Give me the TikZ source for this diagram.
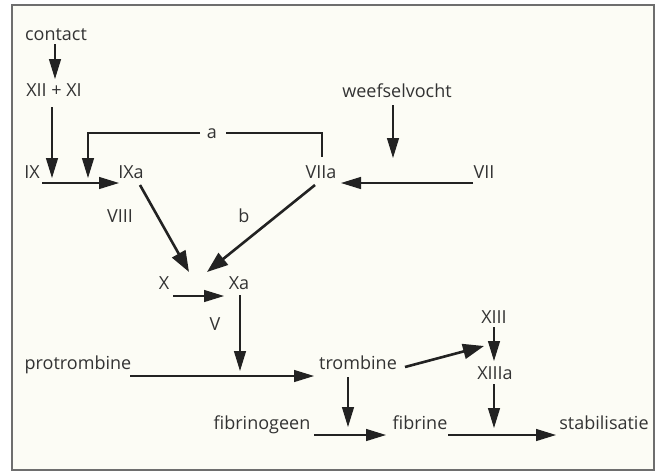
\documentclass[tikz,border=0pt]{standalone}
\usepackage{fontspec}
\setmainfont{Open Sans}
\usetikzlibrary{arrows.meta}
\definecolor{ink}{HTML}{222222}
\definecolor{txt}{HTML}{333333}
\definecolor{paper}{HTML}{FCFCF5}
\definecolor{framec}{HTML}{6E6E6E}
\begin{document}
\begin{tikzpicture}[x=1pt,y=-1pt,
  lbl/.style={font=\fontsize{18}{21}\selectfont, text=txt, inner sep=0pt, anchor=base},
  conn/.style={draw=ink, line width=1.3pt},
  arr/.style={conn, -{Triangle[length=20pt,width=12pt]}},
  thickarr/.style={draw=ink, line width=2.6pt, -{Triangle[length=21pt,width=15pt]}}]
\useasboundingbox (0,0) rectangle (664,472);
\fill[white] (0,0) rectangle (664,472);
\draw[framec, fill=paper, line width=1.3pt] (12,5) rectangle (654,470);

% labels
\node[lbl] (contact) at (56,40) {contact};
\node[lbl] (xii) at (54,96) {XII + XI};
\node[lbl] (ix) at (32,178) {IX};
\node[lbl] (ixa) at (131,178) {IXa};
\node[lbl] (a) at (212,138) {a};
\node[lbl] (viia) at (321,178) {VIIa};
\node[lbl] (vii) at (484,178) {VII};
\node[lbl] (weef) at (397,97) {weefselvocht};
\node[lbl] (viii) at (120,222) {VIII};
\node[lbl] (b) at (244,222) {b};
\node[lbl] (x) at (164,289) {X};
\node[lbl] (xa) at (239,289) {Xa};
\node[lbl] (v) at (215,330) {V};
\node[lbl] (protr) at (78,369) {protrombine};
\node[lbl] (tromb) at (358,369) {trombine};
\node[lbl] (xiii) at (494,323) {XIII};
\node[lbl] (xiiia) at (495,379) {XIIIa};
\node[lbl] (fibrinog) at (262,429) {fibrinogeen};
\node[lbl] (fibrine) at (420,429) {fibrine};
\node[lbl] (stab) at (604,429) {stabilisatie};

% connector end points
\coordinate (contactOut) at (55,44);
\coordinate (xiiIn) at (55,79);
\coordinate (xiiOut) at (52,107);
\coordinate (ixjoin) at (52,178);
\coordinate (ixOut) at (42,183);
\coordinate (ixaIn) at (119,183);
\coordinate (aL) at (200,133);
\coordinate (aR) at (226,133);
\coordinate (aTip) at (88,178);
\coordinate (viiaTop) at (322,157);
\coordinate (weefOut) at (393,105);
\coordinate (weefTip) at (393,158);
\coordinate (viiOut) at (473,183);
\coordinate (viiaIn) at (341,183);
\coordinate (ixaOut) at (140,185);
\coordinate (xaInL) at (189,272);
\coordinate (viiaOut) at (315,185);
\coordinate (xaInR) at (207,272);
\coordinate (xOut) at (173,296);
\coordinate (xaIn) at (224,296);
\coordinate (xaOut) at (240,295);
\coordinate (vTip) at (240,371);
\coordinate (protrOut) at (130,376);
\coordinate (trombIn) at (314,376);
\coordinate (trombOut) at (405,367);
\coordinate (xiiiSide) at (484,346);
\coordinate (xiiiOut) at (494,327);
\coordinate (xiiiaIn) at (494,361);
\coordinate (xiiiaOut) at (494,384);
\coordinate (xiiiaTip) at (494,428);
\coordinate (trombDown) at (348,377);
\coordinate (trombTip) at (348,427);
\coordinate (fibrinogOut) at (314,435);
\coordinate (fibrineIn) at (386,435);
\coordinate (fibrineOut) at (448,435);
\coordinate (stabIn) at (556,435);

% connectors
\draw[arr] (contactOut) -- (xiiIn);
\draw[arr] (xiiOut) -- (ixjoin);
\draw[arr] (ixOut) -- (ixaIn);
\draw[arr] (aL) -| (aTip);
\draw[conn] (aR) -| (viiaTop);
\draw[arr] (weefOut) -- (weefTip);
\draw[arr] (viiOut) -- (viiaIn);
\draw[thickarr] (ixaOut) -- (xaInL);
\draw[thickarr] (viiaOut) -- (xaInR);
\draw[arr] (xOut) -- (xaIn);
\draw[arr] (xaOut) -- (vTip);
\draw[arr] (protrOut) -- (trombIn);
\draw[thickarr] (trombOut) -- (xiiiSide);
\draw[arr] (xiiiOut) -- (xiiiaIn);
\draw[arr] (xiiiaOut) -- (xiiiaTip);
\draw[arr] (trombDown) -- (trombTip);
\draw[arr] (fibrinogOut) -- (fibrineIn);
\draw[arr] (fibrineOut) -- (stabIn);
\end{tikzpicture}
\end{document}
